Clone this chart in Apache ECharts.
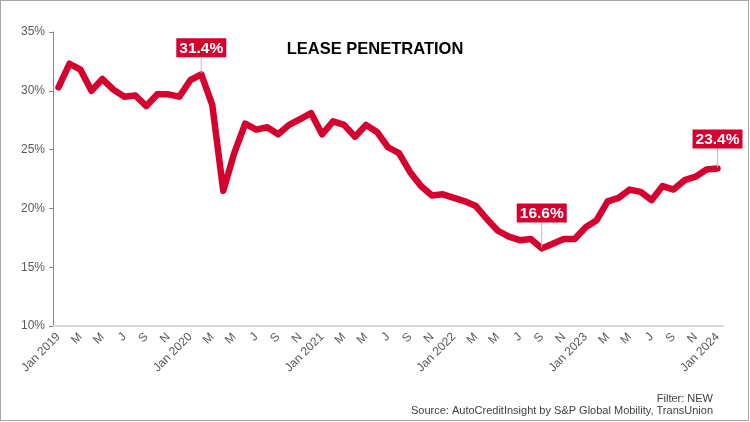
<!DOCTYPE html>
<html>
<head>
<meta charset="utf-8">
<script src="https://cdn.jsdelivr.net/npm/echarts@6/dist/echarts.min.js"></script>
<style>
  html, body { margin: 0; padding: 0; background: #fff; }
  #frame { width: 747px; height: 419px; border: 1px solid #a6a6a6; }
  #chart { width: 750px; height: 422px; position: absolute; left: 0; top: 0; }
</style>
</head>
<body>
<div id="frame"></div>
<div id="chart"></div>
<script>
// monthly lease penetration, Jan 2019 .. Jan 2024
var years = [2019, 2020, 2021, 2022, 2023, 2024];
var monthInitials = ['Jan', 'F', 'M', 'A', 'M', 'J', 'J', 'A', 'S', 'O', 'N', 'D'];
var penetration = [
  30.3, 32.3, 31.8, 30.0, 31.0, 30.1, 29.5, 29.6, 28.7, 29.7, 29.7, 29.5,
  30.9, 31.4, 28.8, 21.5, 24.7, 27.2, 26.7, 26.9, 26.3, 27.1, 27.6, 28.1,
  26.3, 27.4, 27.1, 26.1, 27.1, 26.5, 25.2, 24.7, 23.1, 21.9, 21.1, 21.2,
  20.9, 20.6, 20.2, 19.1, 18.1, 17.6, 17.3, 17.4, 16.6, 17.0, 17.4, 17.4,
  18.4, 19.0, 20.6, 20.9, 21.6, 21.4, 20.7, 21.9, 21.6, 22.4, 22.7, 23.3,
  23.4
];
var labelled = [13, 44, 60];
var labelLift = { 13: -11, 44: -20, 60: -14 };

var categories = [];
years.forEach(function (y) {
  monthInitials.forEach(function (m, i) {
    if (y === 2024 && i > 0) return;
    categories.push(i === 0 ? 'Jan ' + y : m);
  });
});

var red = '#d6002f';
var seriesData = penetration.map(function (v, i) {
  if (labelled.indexOf(i) < 0) return v;
  return {
    value: v,
    label: {
      show: true,
      position: 'top',
      formatter: v.toFixed(1) + '%',
      backgroundColor: red,
      color: '#fff',
      fontWeight: 'bold',
      fontSize: 15.5,
      fontFamily: 'Liberation Sans',
      padding: [2, 3, 1, 3]
    },
    labelLine: { show: true, lineStyle: { color: '#bfbfbf', width: 1 } }
  };
});

var chart = echarts.init(document.getElementById('chart'));
chart.setOption({
  animation: false,
  textStyle: { fontFamily: 'Liberation Sans' },
  title: [{
    text: 'LEASE PENETRATION',
    left: 'center',
    top: 36,
    textStyle: { fontSize: 16.5, fontWeight: 'bold', color: '#000' }
  }, {
    text: 'Filter: NEW',
    right: 32,
    top: 388,
    textStyle: { fontSize: 11, fontWeight: 'normal', color: '#404040' }
  }, {
    text: 'Source: AutoCreditInsight by S&P Global Mobility, TransUnion',
    right: 32,
    top: 400,
    textStyle: { fontSize: 11, fontWeight: 'normal', color: '#404040' }
  }],
  grid: { left: 53, right: 27, top: 32, bottom: 96 },
  xAxis: {
    type: 'category',
    data: categories,
    boundaryGap: true,
    axisLine: { lineStyle: { color: '#d9d9d9', width: 2 } },
    axisTick: { show: false },
    axisLabel: {
      interval: 1,
      rotate: 45,
      color: '#595959',
      fontSize: 12,
      margin: 9
    }
  },
  yAxis: {
    type: 'value',
    min: 10,
    max: 35,
    interval: 5,
    splitLine: { show: false },
    axisLine: { show: true, lineStyle: { color: '#868686', width: 1 } },
    axisTick: { show: true, length: 4, lineStyle: { color: '#868686' } },
    axisLabel: {
      color: '#595959',
      fontSize: 12,
      margin: 8,
      formatter: '{value}%'
    }
  },
  series: [{
    type: 'line',
    data: seriesData,
    symbol: 'circle',
    symbolSize: 2,
    showSymbol: true,
    itemStyle: { color: red },
    lineStyle: { color: red, width: 6.5, join: 'round', cap: 'round' },
    labelLayout: function (p) {
      return { dy: labelLift[p.dataIndex] || 0 };
    }
  }]
});
</script>
</body>
</html>
